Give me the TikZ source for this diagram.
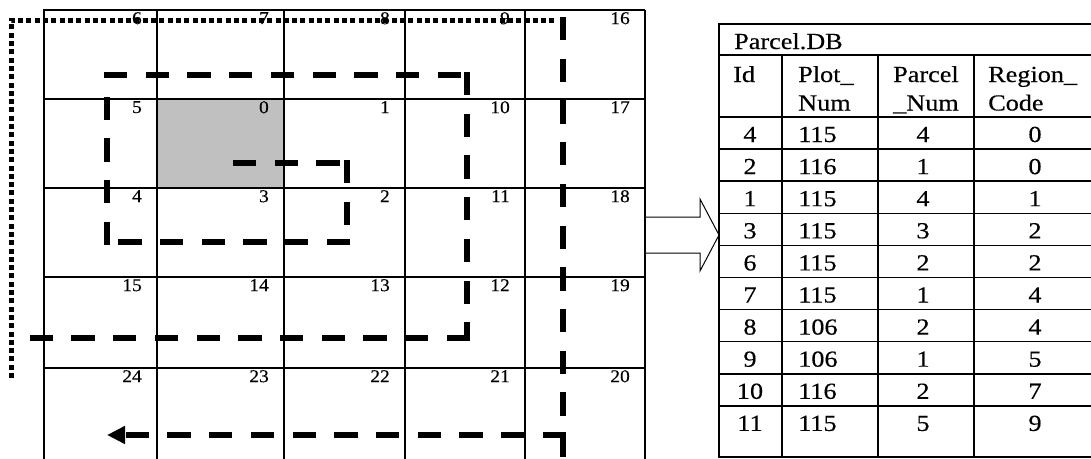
\documentclass[tikz,border=0pt]{standalone}
\usepackage{fontspec}
\setmainfont{Liberation Serif}
\newfontfamily\tabfont{Liberation Serif}[FakeBold=0.35]
\newfontfamily\numfont{Liberation Serif}[FakeBold=0.3]
\usetikzlibrary{arrows.meta}
\definecolor{cellgray}{RGB}{192,192,192}
\begin{document}
\begin{tikzpicture}[x=1pt,y=-1pt,
  gridline/.style={line width=1.3pt},
  tabline/.style={line width=1.5pt},
  cellnum/.style={anchor=north east,inner sep=0pt,font=\numfont\fontsize{18}{18}\selectfont,xscale=1.08},
  tabtxt/.style={inner sep=0pt,font=\tabfont\fontsize{23}{23}\selectfont,xscale=1.14},
  thickdash/.style={line width=6pt,line cap=rect,dash pattern=on 17.3pt off 24.4pt},
  dotline/.style={line width=5pt,dash pattern=on 5pt off 3.3pt},
  blockarrow/.style={line width=1pt,line join=miter}
]
\useasboundingbox (0,0) rectangle (1091,458);

% shaded cell 0
\fill[cellgray] (157,99) rectangle (284,188);

% grid
\foreach \y in {10,99,188,277,368} \draw[gridline] (43,\y) -- (645,\y);
\foreach \x in {44,157,284,405,525,645} \draw[gridline] (\x,10) -- (\x,459);

% cell numbers
\foreach \lab/\x/\y in {6/157/10,7/284/10,8/405/10,9/525/10,16/645/10,
  5/157/99,0/284/99,1/405/99,10/525/99,17/645/99,
  4/157/188,3/284/188,2/405/188,11/525/188,18/645/188,
  15/157/277,14/284/277,13/405/277,12/525/277,19/645/277,
  24/157/368,23/284/368,22/405/368,21/525/368,20/645/368}
  \node[cellnum] (c\lab) at (\x-15,\y+2) {\lab};

% inner spiral (dashed)
\draw[thickdash] (236,163) -- (347,163);
\draw[thickdash] (347,163) -- (347,242);
\draw[thickdash] (347,242) -- (107,242);
\draw[thickdash] (107,242) -- (107,75);
\draw[thickdash] (107,75) -- (467,75);
\draw[thickdash] (467,75) -- (467,338);
\draw[thickdash] (467,338) -- (22,338);

% dotted outer path
\draw[dotline] (11,378) -- (11,20) -- (557,20);

% outer dashed path with arrow
\draw[thickdash] (563,20) -- (563,459);
\draw[thickdash,-{Triangle[length=18pt,width=17pt]}] (563,435) -- (107,435);

% block arrow from grid to table
\draw[blockarrow] (645,217) -- (700,217) -- (700,199) -- (719,235)
  -- (700,271) -- (700,253) -- (645,253);

% table
\draw[tabline] (719,24) rectangle (1094,457);
\draw[tabline] (719,55) -- (1094,55);
\draw[tabline] (719,117) -- (1094,117);
\foreach \k in {1,...,9} \draw[tabline] (719,117+32.1*\k) -- (1094,117+32.1*\k);
\foreach \x in {782,878,974} \draw[tabline] (\x,55) -- (\x,457);

\node[tabtxt,anchor=base west] (title) at (734,49) {Parcel.DB};
\node[tabtxt,anchor=base west] (hid) at (733,82) {Id};
\node[tabtxt,anchor=base west] (hplot) at (798,82) {Plot\_};
\node[tabtxt,anchor=base west] (hplotb) at (798,110.5) {Num};
\node[tabtxt,anchor=base west] (hparcel) at (893,82) {Parcel};
\node[tabtxt,anchor=base west] (hparcelb) at (893,110.5) {\_Num};
\node[tabtxt,anchor=base west] (hregion) at (988,82) {Region\_};
\node[tabtxt,anchor=base west] (hregionb) at (988,110.5) {Code};

\foreach \a/\b/\c/\d [count=\k from 0] in {4/115/4/0,2/116/1/0,1/115/4/1,3/115/3/2,6/115/2/2,
  7/115/1/4,8/106/2/4,9/106/1/5,10/116/2/7,11/115/5/9} {
  \node[tabtxt,anchor=base] (id\k) at (750,142+32.1*\k) {\a};
  \node[tabtxt,anchor=base west] (plot\k) at (798,142+32.1*\k) {\b};
  \node[tabtxt,anchor=base] (parcel\k) at (923,142+32.1*\k) {\c};
  \node[tabtxt,anchor=base] (region\k) at (1035,142+32.1*\k) {\d};
}
\end{tikzpicture}
\end{document}
